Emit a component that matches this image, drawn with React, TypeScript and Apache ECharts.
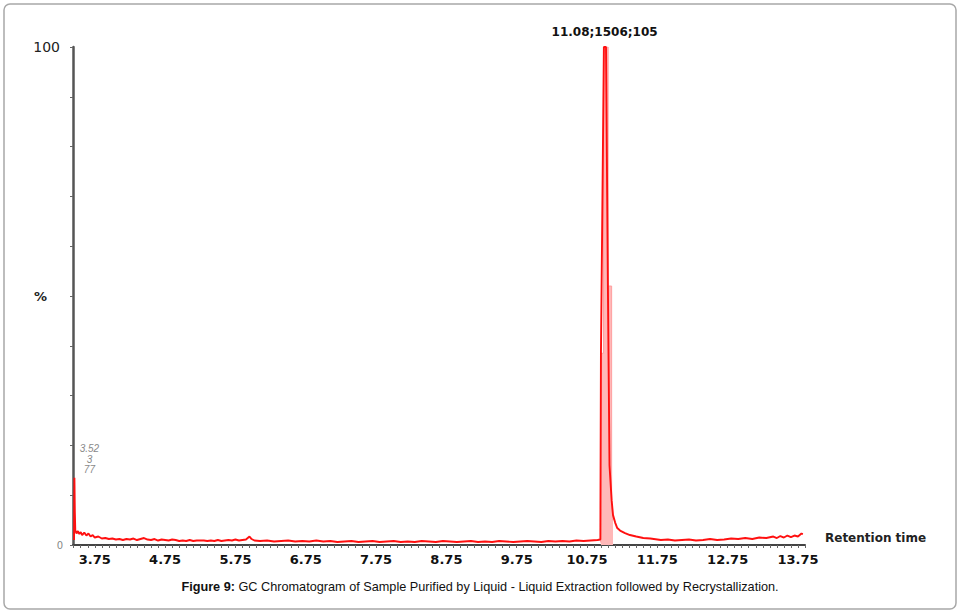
import React, { useEffect, useRef } from "react";
import * as echarts from "echarts";

// Retention time (min) and relative intensity (%) of the red trace
const rtTime = [
  3.455, 3.46, 3.466, 3.472, 3.49, 3.51, 3.53, 3.55, 3.57, 3.6, 3.63, 3.66, 3.69, 3.72, 3.75, 3.8, 3.85, 3.9,
  3.95, 4.0, 4.05, 4.1, 4.15, 4.2, 4.25, 4.3, 4.35, 4.4, 4.45, 4.5, 4.55, 4.6, 4.65, 4.7, 4.75, 4.8, 4.85, 4.9,
  4.95, 5.0, 5.05, 5.1, 5.15, 5.2, 5.3, 5.35, 5.4, 5.45, 5.5, 5.55, 5.6, 5.65, 5.7, 5.75, 5.8, 5.85, 5.9, 5.95,
  5.98, 6.02, 6.1, 6.2, 6.3, 6.4, 6.5, 6.6, 6.7, 6.8, 6.9, 7.0, 7.1, 7.2, 7.3, 7.4, 7.5, 7.6, 7.7, 7.8, 7.9,
  8.0, 8.1, 8.2, 8.3, 8.4, 8.5, 8.6, 8.7, 8.8, 8.9, 9.0, 9.1, 9.2, 9.3, 9.4, 9.5, 9.6, 9.7, 9.8, 9.9, 10.0,
  10.1, 10.2, 10.3, 10.4, 10.5, 10.6, 10.7, 10.8, 10.9, 10.94, 10.948, 10.99, 11.0, 11.02, 11.047, 11.07, 11.1,
  11.12, 11.15, 11.18, 11.22, 11.29, 11.36, 11.45, 11.55, 11.65, 11.75, 11.8, 11.9, 12.0, 12.1, 12.2, 12.3,
  12.4, 12.5, 12.6, 12.7, 12.8, 12.9, 13.0, 13.1, 13.2, 13.3, 13.4, 13.45, 13.5, 13.55, 13.6, 13.65, 13.7,
  13.75, 13.8, 13.82,
];
const intensity = [
  1.0, 13.5, 6.6, 3.0, 2.3, 2.8, 2.2, 2.6, 2.0, 2.5, 1.9, 2.3, 1.7, 2.0, 1.5, 1.7, 1.3, 1.4,
  1.2, 1.3, 1.1, 1.2, 1.0, 1.2, 1.1, 1.3, 1.0, 1.2, 1.4, 1.1, 1.0, 1.2, 0.9, 1.1, 1.0, 0.9, 1.1, 1.0,
  0.8, 0.9, 0.8, 1.0, 0.8, 0.9, 0.9, 0.8, 0.9, 0.8, 1.0, 0.8, 0.9, 1.0, 0.9, 1.1, 0.9, 1.0, 1.1, 1.7,
  1.2, 0.9, 0.8, 0.9, 0.7, 0.8, 0.9, 0.7, 0.8, 0.7, 0.9, 0.7, 0.8, 0.6, 0.7, 0.8, 0.6, 0.7, 0.8, 0.6, 0.7,
  0.8, 0.6, 0.7, 0.6, 0.8, 0.7, 0.6, 0.8, 0.7, 0.6, 0.7, 0.8, 0.6, 0.7, 0.6, 0.8, 0.7, 0.6, 0.7, 0.8, 0.7,
  0.6, 0.8, 0.7, 0.8, 0.7, 0.9, 0.8, 0.9, 1.0, 1.1, 38, 100, 100, 100, 52, 16, 9,
  6, 4.5, 3.4, 2.9, 2.4, 2.0, 1.7, 1.4, 1.3, 1.1, 1.0, 1.1, 0.9, 1.0, 1.1, 0.9,
  1.0, 1.2, 1.0, 1.1, 1.3, 1.2, 1.4, 1.2, 1.5, 1.4, 1.7, 1.4, 1.8, 1.5, 1.9, 1.6, 1.9,
  1.7, 2.3, 2.2,
];

// Light pink envelope around the main peak
const envTime = [10.945, 10.947, 10.985, 10.985, 11.05, 11.05, 11.1, 11.1, 11.12];
const envValue = [0.5, 38.5, 38.5, 100, 100, 52, 52, 8, 5];

// Peak annotations (retention time of the point that carries the label)
const peakAnnotTime = [3.46, 11.0];
const peakAnnotText = ["3.52\n3\n77", "11.08;1506;105"];

const xTickLabels = [3.75, 4.75, 5.75, 6.75, 7.75, 8.75, 9.75, 10.75, 11.75, 12.75, 13.75];
const xMin = 3.44;
const xMax = 13.85;

export default function App() {
  const ref = useRef<HTMLDivElement>(null);

  useEffect(() => {
    document.body.style.margin = "0";
    if (!ref.current) return;
    const chart = echarts.init(ref.current, null, { renderer: "svg" });

    const minorTicks: number[] = [];
    for (let v = 3.45; v <= 13.851; v += 0.1) minorTicks.push(Math.round(v * 100) / 100);

    const lineData = rtTime.map((t, i) => {
      const k = peakAnnotTime.indexOf(t);
      if (k < 0) return [t, intensity[i]];
      const small = k === 0;
      return {
        value: [t, intensity[i]],
        label: {
          show: true,
          formatter: peakAnnotText[k],
          position: "top",
          distance: small ? 3 : 8,
          offset: small ? [15, 0] : [0, 0],
          fontFamily: small ? "Liberation Sans" : "DejaVu Sans",
          fontSize: small ? 10 : 12,
          lineHeight: small ? 10.5 : 14,
          fontStyle: small ? "italic" : "normal",
          fontWeight: small ? "normal" : "bold",
          color: small ? "#8a8a8a" : "#111",
        },
      };
    });

    chart.setOption({
      animation: false,
      backgroundColor: "#fff",
      grid: { left: 73, right: 157, top: 47, bottom: 70, containLabel: false },
      xAxis: {
        type: "value",
        min: xMin,
        max: xMax,
        name: "Retention time",
        nameLocation: "end",
        nameGap: 20,
        nameTextStyle: {
          fontFamily: "DejaVu Sans",
          fontWeight: "bold",
          fontSize: 12,
          color: "#222",
          verticalAlign: "bottom",
          lineHeight: 14,
        },
        axisLine: { lineStyle: { color: "#444", width: 2 } },
        axisTick: {
          show: true,
          length: 3,
          customValues: minorTicks,
          lineStyle: { color: "#666", width: 1 },
        },
        axisLabel: {
          customValues: xTickLabels,
          formatter: (v: number) => v.toFixed(2),
          margin: 8,
          fontFamily: "DejaVu Sans",
          fontWeight: "bold",
          fontSize: 13,
          color: "#111",
        },
        splitLine: { show: false },
      },
      yAxis: {
        type: "value",
        min: 0,
        max: 100,
        interval: 10,
        name: "%",
        nameLocation: "middle",
        nameRotate: 0,
        nameGap: 26,
        nameMoveOverlap: false,
        nameTextStyle: {
          fontFamily: "DejaVu Sans",
          fontWeight: "bold",
          fontSize: 13,
          color: "#222",
        },
        axisLine: { show: true, lineStyle: { color: "#555", width: 2.5 } },
        axisTick: { show: true, length: 3, lineStyle: { color: "#666" } },
        axisLabel: {
          margin: 10,
          formatter: (v: number) => (v === 100 ? "{a|100}" : v === 0 ? "{b|0}" : ""),
          rich: {
            a: { fontFamily: "DejaVu Sans", fontSize: 14, color: "#222", padding: [0, 3, 0, 0] },
            b: { fontFamily: "DejaVu Sans", fontSize: 10, color: "#888" },
          },
        },
        splitLine: { show: false },
      },
      series: [
        {
          type: "line",
          data: envTime.map((t, i) => [t, envValue[i]]),
          symbol: "none",
          lineStyle: { color: "#ff9e9e", width: 1 },
          areaStyle: { color: "#ffb8b8", opacity: 1 },
          z: 2,
        },
        {
          type: "line",
          data: lineData,
          symbol: "circle",
          symbolSize: 0,
          showSymbol: true,
          showAllSymbol: true,
          lineStyle: { color: "#ff1010", width: 1.9 },
          itemStyle: { color: "#ff1010" },
          z: 3,
        },
      ],
      graphic: [
        {
          type: "rect",
          shape: { x: 4, y: 4, width: 952, height: 605, r: 6 },
          style: { fill: "none", stroke: "#a8a8a8", lineWidth: 1.5 },
          silent: true,
        },
        {
          type: "text",
          x: 480,
          y: 587,
          style: {
            text: "{b|Figure 9:} GC Chromatogram of Sample Purified by Liquid - Liquid Extraction followed by Recrystallization.",
            align: "center",
            verticalAlign: "middle",
            fontFamily: "Liberation Sans",
            fontSize: 12.7,
            fill: "#111",
            rich: {
              b: { fontFamily: "Liberation Sans", fontSize: 12.7, fontWeight: "bold", fill: "#111" },
            },
          },
        },
      ],
    });

    return () => chart.dispose();
  }, []);

  return <div ref={ref} style={{ width: 962, height: 615 }} />;
}
